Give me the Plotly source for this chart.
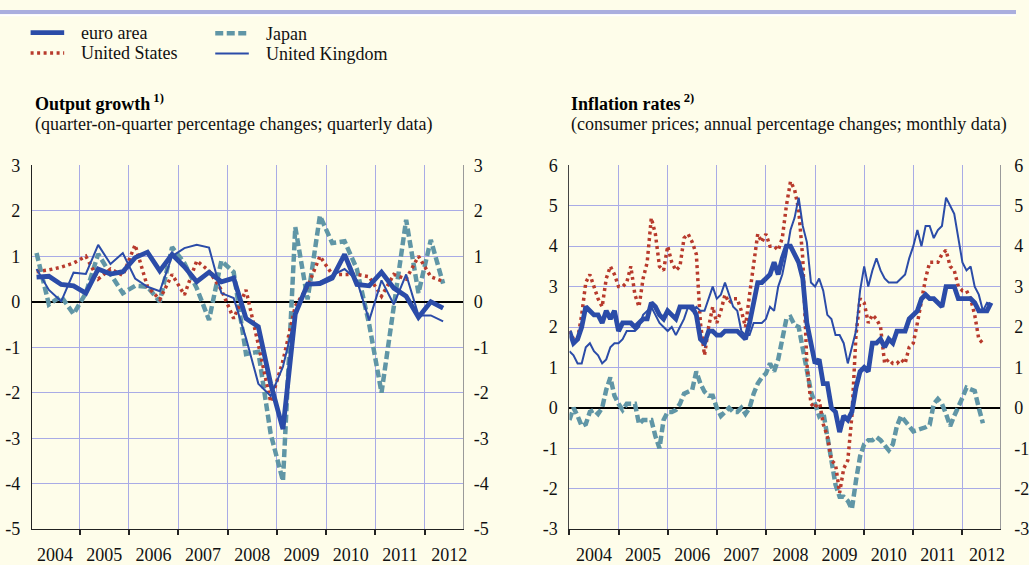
import plotly.graph_objects as go

W, H = 1029, 565

# ---------------- data ----------------
years = list(range(2004, 2013))
year_labels = [str(y) for y in years]

# Output growth: quarterly, 2004Q1 .. 2012Q2
gdp_euro = [0.54, 0.56, 0.38, 0.35,
            0.19, 0.72, 0.61, 0.66,
            0.97, 1.09, 0.68, 1.04,
            0.77, 0.44, 0.65, 0.44,
            0.52, -0.37, -0.55, -1.8,
            -2.8, -0.27, 0.39, 0.40,
            0.52, 1.04, 0.38, 0.35,
            0.65, 0.30, 0.12, -0.34,
            0.0, -0.14]
gdp_us = [0.66, 0.70, 0.76, 0.85,
          1.0, 0.50, 0.72, 0.58,
          1.25, 0.33, 0.05, 0.60,
          0.15, 0.90, 0.68, 0.26,
          -0.37, 0.26, -0.94, -2.2,
          -1.3, -0.1, 0.33, 1.0,
          0.6, 0.6, 0.6, 0.55,
          0.12, 0.6, 0.5, 1.0,
          0.55, 0.45]
gdp_jp = [1.07, -0.06, 0.12, -0.27,
          0.19, 1.05, 0.61, 0.19,
          0.35, 0.33, 0.0, 1.2,
          0.85, 0.30, -0.40, 0.90,
          0.65, -1.15, -1.1, -2.9,
          -3.94, 1.64, 0.05, 1.89,
          1.29, 1.33, 0.72, -0.5,
          -2.0, -0.02, 1.8, 0.19,
          1.36, 0.40]
gdp_uk = [0.72, 0.26, 0.01, 0.64,
          0.61, 1.25, 0.83, 1.07,
          0.51, 0.33, 0.23, 1.0,
          1.18, 1.25, 1.19, 0.19,
          0.08, -0.8, -1.8, -2.07,
          -1.43, -0.3, 0.37, 0.44,
          0.58, 0.72, 0.47, -0.41,
          0.47, -0.06, 0.6, -0.3,
          -0.3, -0.43]

# Inflation: monthly from Jan 2004
cpi_euro = [1.9, 1.6, 1.7, 2.0, 2.5, 2.4, 2.3, 2.3, 2.1, 2.4, 2.2, 2.4,
            1.9, 2.1, 2.1, 2.1, 2.0, 2.1, 2.2, 2.2, 2.6, 2.5, 2.3, 2.2,
            2.4, 2.3, 2.2, 2.5, 2.5, 2.5, 2.5, 2.3, 1.7, 1.6, 1.9, 1.9,
            1.8, 1.8, 1.9, 1.9, 1.9, 1.9, 1.8, 1.7, 2.1, 2.6, 3.1, 3.1,
            3.2, 3.3, 3.6, 3.3, 3.7, 4.0, 4.0, 3.8, 3.6, 3.2, 2.1, 1.6,
            1.1, 1.2, 0.6, 0.6, 0.0, -0.1, -0.6, -0.2, -0.3, -0.1, 0.5, 0.9,
            1.0, 0.9, 1.6, 1.6, 1.7, 1.5, 1.7, 1.6, 1.9, 1.9, 1.9, 2.2,
            2.3, 2.4, 2.7, 2.8, 2.7, 2.7, 2.6, 2.5, 3.0, 3.0, 3.0, 2.7,
            2.7, 2.7, 2.7, 2.6, 2.4, 2.4, 2.4, 2.6]
cpi_us = [1.9, 1.7, 1.7, 2.3, 3.1, 3.3, 3.0, 2.7, 2.5, 3.2, 3.5, 3.3,
          3.0, 3.0, 3.1, 3.5, 2.8, 2.5, 3.2, 3.6, 4.7, 4.3, 3.5, 3.4,
          4.0, 3.6, 3.4, 3.5, 4.2, 4.3, 4.1, 3.8, 2.1, 1.3, 2.0, 2.5,
          2.1, 2.4, 2.8, 2.6, 2.7, 2.7, 2.4, 2.0, 2.8, 3.5, 4.3, 4.1,
          4.3, 4.0, 4.0, 3.9, 4.2, 5.0, 5.6, 5.4, 4.9, 3.7, 1.1, 0.1,
          0.0, 0.2, -0.4, -0.7, -1.3, -1.4, -2.1, -1.5, -1.3, -0.2, 1.8, 2.7,
          2.6, 2.1, 2.3, 2.2, 2.0, 1.1, 1.2, 1.1, 1.1, 1.2, 1.1, 1.5,
          1.6, 2.1, 2.7, 3.2, 3.6, 3.6, 3.6, 3.8, 3.9, 3.5, 3.4, 3.0,
          2.9, 2.9, 2.7, 2.3, 1.7, 1.6]
cpi_jp = [-0.3, 0.0, -0.2, -0.45, -0.4, -0.1, -0.05, -0.15, 0.0, 0.45, 0.75, 0.3,
          0.1, -0.05, 0.1, 0.1, 0.1, -0.4, -0.3, -0.3, -0.3, -0.7, -1.0, -0.3,
          -0.1, -0.1, -0.05, 0.1, 0.35, 0.4, 0.45, 0.9, 0.6, 0.4, 0.3, 0.3,
          0.0, -0.2, -0.1, 0.0, -0.1, -0.1, 0.0, -0.15, 0.0, 0.35, 0.6, 0.75,
          0.85, 1.1, 0.9, 1.2, 1.7, 2.2, 2.25, 2.05, 2.0, 1.45, 0.9, 0.4,
          0.1, -0.2, -0.1, -0.7, -1.4, -1.9, -2.2, -2.2, -2.3, -2.5, -1.8, -1.2,
          -0.9, -0.8, -0.8, -0.72, -0.8, -0.95, -1.05, -0.9, -0.45, -0.2, -0.35, -0.45,
          -0.58, -0.55, -0.5, -0.48, -0.42, 0.1, 0.22, 0.1, -0.15, -0.45, -0.2, 0.0,
          0.25, 0.5, 0.45, 0.42, 0.0, -0.38]
cpi_uk = [1.4, 1.3, 1.1, 1.1, 1.5, 1.6, 1.4, 1.3, 1.1, 1.2, 1.5, 1.6,
          1.6, 1.7, 1.9, 1.9, 1.9, 2.0, 2.3, 2.4, 2.5, 2.3, 2.1, 2.0,
          1.9, 2.0, 1.8, 2.0, 2.2, 2.5, 2.4, 2.5, 2.4, 2.4, 2.7, 3.0,
          2.7, 2.8, 3.1, 2.8, 2.5, 2.4, 1.9, 1.8, 1.8, 2.1, 2.1, 2.1,
          2.2, 2.5, 2.4, 3.0, 3.3, 3.8, 4.4, 4.7, 5.2, 4.5, 4.1, 3.1,
          3.0, 3.2, 2.9, 2.3, 2.2, 1.8, 1.8, 1.6, 1.1, 1.5, 1.9, 2.9,
          3.5, 3.0, 3.4, 3.7, 3.4, 3.2, 3.1, 3.1, 3.1, 3.2, 3.3, 3.7,
          4.0, 4.4, 4.0, 4.5, 4.5, 4.2, 4.4, 4.5, 5.2, 5.0, 4.8, 4.2,
          3.6, 3.4, 3.5, 3.0, 2.8, 2.4, 2.6, 2.55]

series_names = ["euro area", "United States", "Japan", "United Kingdom"]
gdp_ticks = list(range(-5, 4))
cpi_ticks = list(range(-3, 7))

# time positions (decimal years)
t_quarter = [y + (q - 1) / 4 + 0.125 for y in years for q in range(1, 5)]
t_month = [y + (m - 1) / 12 for y in years for m in range(1, 13)]

# ---------------- styles ----------------
BG = "#FEFDEA"
GRID = "#A9ABE6"
BLUE = "#2B4CA8"
RED = "#B83A2C"
TEAL = "#6096A6"
FONT = "Liberation Serif"
TXT = "#111111"

styles = {
    "Japan": dict(color=TEAL, width=4.5, dash="8px,3.5px"),
    "United States": dict(color=RED, width=3.5, dash="3px,3.5px"),
    "United Kingdom": dict(color=BLUE, width=2, dash="solid"),
    "euro area": dict(color=BLUE, width=4.8, dash="solid"),
}

fig = go.Figure()

draw_order = ["Japan", "United States", "United Kingdom", "euro area"]
gdp = {"euro area": gdp_euro, "United States": gdp_us, "Japan": gdp_jp, "United Kingdom": gdp_uk}
cpi = {"euro area": cpi_euro, "United States": cpi_us, "Japan": cpi_jp, "United Kingdom": cpi_uk}

for name in draw_order:
    v = gdp[name]
    fig.add_trace(go.Scatter(x=t_quarter[:len(v)], y=v, mode="lines", name=name,
                             line=styles[name], xaxis="x", yaxis="y",
                             showlegend=False, hoverinfo="skip"))
for name in draw_order:
    v = cpi[name]
    fig.add_trace(go.Scatter(x=t_month[:len(v)], y=v, mode="lines", name=name,
                             line=styles[name], xaxis="x2", yaxis="y3",
                             showlegend=False, hoverinfo="skip"))
# invisible traces to activate right-hand axes
fig.add_trace(go.Scatter(x=t_quarter[:len(gdp_euro)], y=gdp_euro, mode="lines",
                         line=dict(width=0), opacity=0, xaxis="x", yaxis="y2",
                         showlegend=False, hoverinfo="skip"))
fig.add_trace(go.Scatter(x=t_month[:len(cpi_euro)], y=cpi_euro, mode="lines",
                         line=dict(width=0), opacity=0, xaxis="x2", yaxis="y4",
                         showlegend=False, hoverinfo="skip"))

YD = [(H - 538.2) / H, (H - 161.0) / H]


def xaxis(domain, rng, anchor):
    return dict(domain=domain, range=rng, anchor=anchor,
                tickmode="array", tickvals=[y + 0.5 for y in years], ticktext=year_labels,
                ticks="outside", ticklen=9, tickcolor="rgba(0,0,0,0)",
                showgrid=False, zeroline=False,
                showline=True, linecolor="#222", linewidth=1.2,
                minor=dict(tickmode="array", tickvals=years, ticks="outside",
                           ticklen=5, tickwidth=1.5, tickcolor="#222",
                           showgrid=True, gridcolor=GRID, gridwidth=1),
                tickfont=dict(family=FONT, size=18, color=TXT), fixedrange=True)


def yaxis_left(rng, ticks, anchor, linecolor):
    return dict(domain=YD, range=rng, anchor=anchor,
                tickmode="array", tickvals=ticks, ticktext=[str(t) for t in ticks],
                ticks="outside", ticklen=7, tickcolor="rgba(0,0,0,0)",
                showgrid=True, gridcolor=GRID, gridwidth=1,
                zeroline=True, zerolinecolor="#000", zerolinewidth=1.5,
                showline=True, linecolor=linecolor, linewidth=1.2,
                tickfont=dict(family=FONT, size=18, color=TXT), fixedrange=True)


def yaxis_right(rng, ticks, anchor, over, tl):
    return dict(range=rng, anchor=anchor, overlaying=over, side="right",
                tickmode="array", tickvals=ticks, ticktext=[str(t) for t in ticks],
                ticks="outside", ticklen=tl, tickcolor="rgba(0,0,0,0)",
                showgrid=False, zeroline=False,
                showline=True, linecolor="#9A9A9A", linewidth=1.2,
                tickfont=dict(family=FONT, size=18, color=TXT), fixedrange=True)


fig.update_layout(
    width=W, height=H,
    margin=dict(l=0, r=0, t=0, b=0),
    paper_bgcolor=BG, plot_bgcolor=BG,
    font=dict(family=FONT, size=18, color=TXT),
    showlegend=False,
    xaxis=xaxis([32.3 / W, 469.0 / W], [2004.03, 2012.78], "y"),
    yaxis=yaxis_left([-5, 3], gdp_ticks, "x", "#222"),
    yaxis2=yaxis_right([-5, 3], gdp_ticks, "x", "y", 6),
    xaxis2=xaxis([576.7 / W, 1013.3 / W], [2004.0, 2012.775], "y3"),
    yaxis3=yaxis_left([-3, 6], cpi_ticks, "x2", "#444"),
    yaxis4=yaxis_right([-3, 6], cpi_ticks, "x2", "y3", 9),
)


def px(x):
    return x / W


def py(y):
    return 1 - y / H


shapes = [
    dict(type="rect", xref="paper", yref="paper", x0=0, x1=1, y0=py(4.5), y1=1,
         fillcolor="#AAAEDE", line=dict(width=0), layer="above"),
    dict(type="rect", xref="paper", yref="paper", x0=0, x1=1, y0=py(6.5), y1=py(4.5),
         fillcolor="#FFFFFF", line=dict(width=0), layer="above"),
]
annotations = []

legend_pos = {"euro area": (31, 65, 23.5), "United States": (31, 65, 44.5),
              "Japan": (218, 252, 24), "United Kingdom": (218, 252, 45)}
for name in series_names:
    x0, x1, yy = legend_pos[name]
    st = styles[name]
    shapes.append(dict(type="line", xref="paper", yref="paper",
                       x0=px(x0), x1=px(x1), y0=py(yy), y1=py(yy),
                       line=dict(color=st["color"], width=st["width"], dash=st["dash"])))
    annotations.append(dict(xref="paper", yref="paper", x=px(x1 + 15), y=py(yy + 0.5),
                            xanchor="left", yanchor="middle", showarrow=False,
                            text=name, font=dict(family=FONT, size=18, color=TXT)))

titles = [
    (33, "<b>Output growth</b><sup><b> 1)</b></sup>",
     "(quarter-on-quarter percentage changes; quarterly data)"),
    (576, "<b>Inflation rates</b><sup><b> 2)</b></sup>",
     "(consumer prices; annual percentage changes; monthly data)"),
]
for x0, title, sub in titles:
    annotations.append(dict(xref="paper", yref="paper", x=px(x0), y=py(96),
                            xanchor="left", yanchor="middle", showarrow=False,
                            text=title, font=dict(family=FONT, size=18, color="#000")))
    annotations.append(dict(xref="paper", yref="paper", x=px(x0), y=py(118.5),
                            xanchor="left", yanchor="middle", showarrow=False,
                            text=sub, font=dict(family=FONT, size=18, color=TXT)))

fig.update_layout(shapes=shapes, annotations=annotations)

fig.write_html(
    "out.html",
    config={"displayModeBar": False, "responsive": False},
    post_script=(
        "document.documentElement.style.margin='0';"
        "document.documentElement.style.overflow='hidden';"
        "document.body.style.margin='0';document.body.style.padding='0';"
        "document.body.style.overflow='hidden';"
        "var d=document.getElementById('{plot_id}');"
        "d.style.position='fixed';d.style.left='0px';d.style.top='0px';"
    ),
)
